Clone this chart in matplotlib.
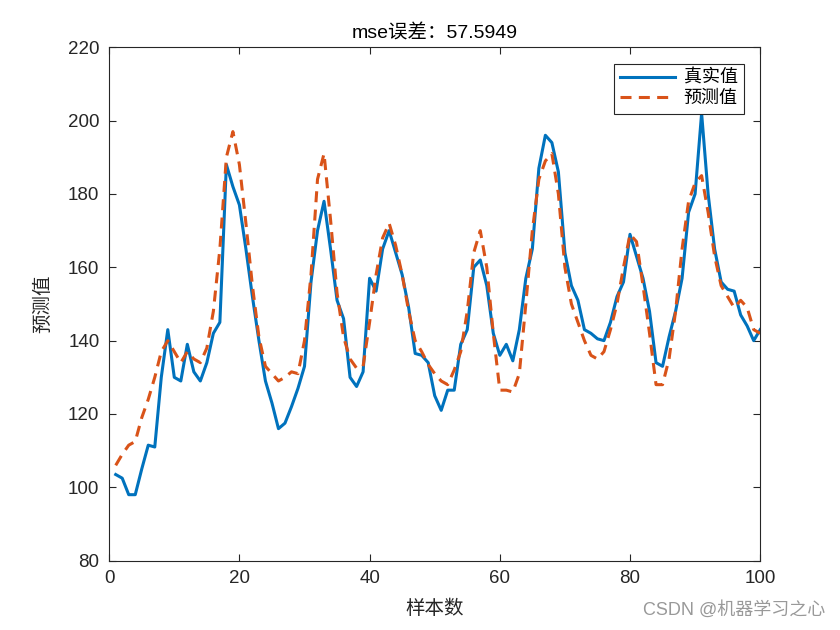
import matplotlib
matplotlib.use("Agg")
import matplotlib.pyplot as plt

plt.rcParams["font.family"] = ["Liberation Sans", "Noto Sans CJK SC"]

title_text = "mse误差：57.5949"
samples = list(range(1, 101))

true_vals = [
    103.5, 102.5, 98, 98, 105, 111.5, 111, 130, 143, 130,
    129, 139, 131.5, 129, 134, 142, 145, 188, 182, 177,
    165, 152, 140, 129, 123, 116, 117.5, 122, 127, 133,
    156, 170, 178, 165, 151, 146, 130, 127.5, 131.5, 157,
    153.5, 165, 170, 164, 158, 149, 136.5, 136, 134, 125,
    121, 126.5, 126.5, 139, 143, 160, 162, 155, 142, 136,
    139, 134.5, 143, 157, 165, 187, 196, 194, 186, 164,
    155, 151, 143, 142, 140.5, 140, 145, 152, 156, 169,
    163, 157, 148, 134, 133, 141, 148, 157, 175, 180,
    202, 180, 165, 156, 154, 153.5, 147, 144, 140, 143,
]

pred_vals = [
    106, 109, 111.5, 112.5, 119, 124, 130, 137, 140, 137,
    134, 137, 135, 134, 138, 148, 165, 190, 197, 188,
    172, 155, 141, 133, 131, 129, 130, 131.5, 131, 140,
    158, 184, 191, 173, 153, 141, 135, 132.5, 133, 145,
    158, 168, 172, 166, 158, 148, 140, 137, 133.5, 131,
    129, 128, 132, 137, 148, 164, 170, 160, 142, 126.5,
    126.5, 126, 131, 150, 170, 184, 189, 191, 180, 160,
    150, 145, 140, 136, 135, 137, 143, 150, 160, 169,
    167, 155, 142, 128, 128, 135, 148, 165, 178, 183,
    185, 175, 163, 155, 152, 149, 151, 149, 143, 142,
]

fig = plt.figure(figsize=(8.4, 6.3), dpi=100)
ax = fig.add_axes([0.13, 0.11, 0.775, 0.815])

ax.plot(samples, true_vals, color="#0072BD", lw=2.2, label="真实值")
ax.plot(samples, pred_vals, color="#D95319", lw=2.2, ls="--",
        dashes=(3.6, 2.4), label="预测值")

ax.set_xlim(0, 100)
ax.set_ylim(80, 220)
ax.set_xticks(range(0, 101, 20))
ax.set_yticks(range(80, 221, 20))
ax.tick_params(direction="in", length=5, width=0.8, top=True, right=True,
               labelsize=13.5, colors="#262626", pad=7)
for s in ax.spines.values():
    s.set_linewidth(0.8)
    s.set_color("#262626")

ax.set_title(title_text, fontsize=14, pad=6)
ax.set_xlabel("样本数", fontsize=14, color="#262626", labelpad=9)
ax.set_ylabel("预测值", fontsize=14, color="#262626", labelpad=11)

leg = ax.legend(loc="upper right", fontsize=13, fancybox=False,
                edgecolor="#262626", framealpha=1, handlelength=3.0,
                handletextpad=0.5, borderaxespad=0.9, borderpad=0.35,
                labelspacing=0.2)
leg.get_frame().set_linewidth(0.8)

fig.text(0.982, 0.018, "CSDN @机器学习之心", ha="right", va="bottom",
         fontsize=13, color="#999999")

fig.savefig("out.png", dpi=100)
